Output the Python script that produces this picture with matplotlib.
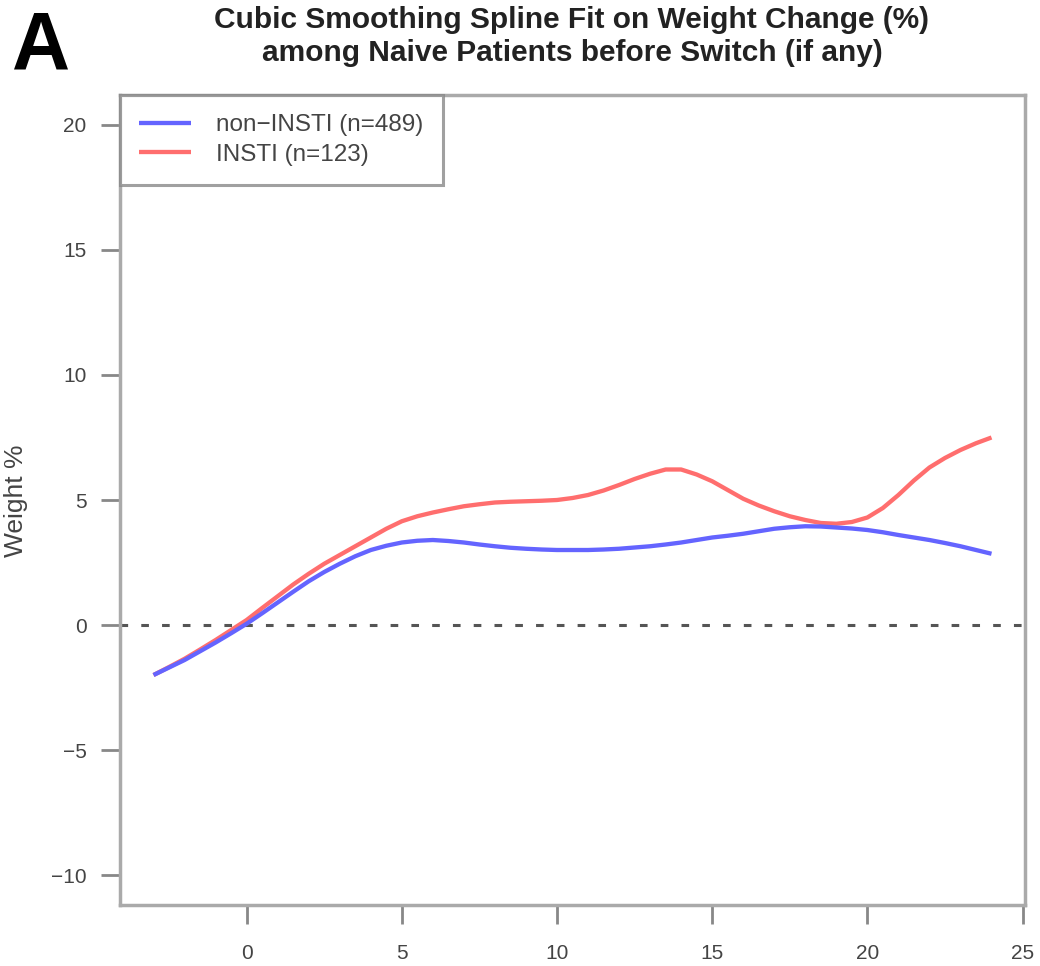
import matplotlib
matplotlib.use('Agg')
import matplotlib.pyplot as plt
import numpy as np

plt.rcParams['font.family'] = ['Liberation Sans', 'DejaVu Sans']

# months since start (half-month steps)
months = [-3, -2.5, -2, -1.5, -1, -0.5, 0, 0.5, 1, 1.5, 2, 2.5, 3, 3.5, 4, 4.5,
          5, 5.5, 6, 6.5, 7, 7.5, 8, 8.5, 9, 9.5, 10, 10.5, 11, 11.5, 12, 12.5,
          13, 13.5, 14, 14.5, 15, 15.5, 16, 16.5, 17, 17.5, 18, 18.5, 19, 19.5,
          20, 20.5, 21, 21.5, 22, 22.5, 23, 23.5, 24]
non_insti = [-2.0, -1.7, -1.4, -1.05, -0.7, -0.33, 0.05, 0.47, 0.9, 1.33, 1.75,
             2.12, 2.45, 2.75, 3.0, 3.17, 3.3, 3.37, 3.4, 3.36, 3.3, 3.22, 3.15,
             3.09, 3.05, 3.02, 3.0, 3.0, 3.0, 3.02, 3.05, 3.1, 3.15, 3.22, 3.3,
             3.4, 3.5, 3.57, 3.65, 3.75, 3.85, 3.91, 3.95, 3.94, 3.9, 3.86, 3.8,
             3.71, 3.6, 3.5, 3.4, 3.28, 3.15, 3.0, 2.85]
insti = [-2.0, -1.68, -1.35, -0.98, -0.6, -0.2, 0.2, 0.68, 1.15, 1.62, 2.05,
         2.45, 2.8, 3.15, 3.5, 3.85, 4.15, 4.35, 4.5, 4.63, 4.75, 4.83, 4.9,
         4.93, 4.95, 4.97, 5.0, 5.08, 5.2, 5.38, 5.6, 5.84, 6.05, 6.22, 6.22,
         6.02, 5.75, 5.4, 5.05, 4.78, 4.55, 4.35, 4.2, 4.08, 4.05, 4.12, 4.3,
         4.68, 5.2, 5.78, 6.3, 6.68, 7.0, 7.27, 7.5]
labels = ['non\u2212INSTI (n=489)', 'INSTI (n=123)']
xticks = [0, 5, 10, 15, 20, 25]
yticks = [-10, -5, 0, 5, 10, 15, 20]

fig = plt.figure(figsize=(10.4, 9.66), dpi=100)
ax = fig.add_axes([0.1154, 0.0631, 0.8702, 0.8386])

ax.axhline(0, color='#555555', lw=2.2, linestyle=(0, (2.5, 4.3)), zorder=1)
ax.plot(months, non_insti, color='#6464ff', lw=3.1, label=labels[0], zorder=3,
        solid_capstyle='butt')
ax.plot(months, insti, color='#ff6e6e', lw=3.1, label=labels[1], zorder=2,
        solid_capstyle='butt')

ax.set_xlim(-4.08, 25.08)
ax.set_ylim(-11.2, 21.2)
ax.set_xticks(xticks)
ax.set_yticks(yticks)
ax.set_yticklabels([str(v).replace('-', '\u2212') for v in yticks])
ax.tick_params(axis='both', length=14, width=2, color='#888888',
               labelsize=15, labelcolor='#444444')
ax.tick_params(axis='x', pad=14)
ax.tick_params(axis='y', pad=10)
for s in ax.spines.values():
    s.set_color('#aaaaaa')
    s.set_linewidth(2.5)

leg = ax.legend(loc='upper left', bbox_to_anchor=(0, 1), borderaxespad=0,
                fontsize=17.5, frameon=True, fancybox=False, handlelength=2.1,
                handletextpad=1.05, borderpad=0.8, labelspacing=0.3)
leg.get_frame().set_edgecolor('#888888')
leg.get_frame().set_linewidth(2.2)
for t in leg.get_texts():
    t.set_color('#444444')

fig.text(0.55, 0.994, 'Cubic Smoothing Spline Fit on Weight Change (%)\namong Naive Patients before Switch (if any)',
         ha='center', va='top', fontsize=21.5, fontweight='bold', color='#222222', linespacing=1.25)
fig.text(0.012, 0.99, 'A', ha='left', va='top', fontsize=58, fontweight='bold', color='black')
fig.text(0.015, 0.482, 'Weight %', rotation=90, ha='center', va='center', fontsize=19, color='#444444')

fig.savefig('out.png', dpi=100)
